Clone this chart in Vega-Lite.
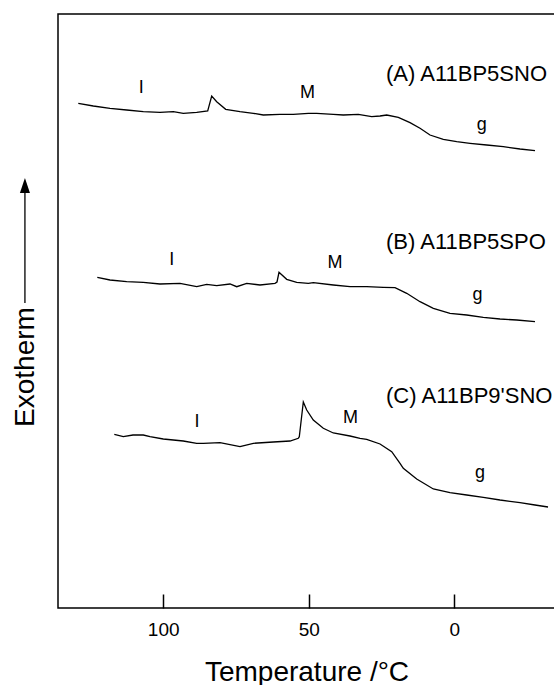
{
  "$schema": "https://vega.github.io/schema/vega-lite/v6.json",
  "width": 497,
  "height": 594,
  "autosize": {"type": "none"},
  "padding": {"left": 58, "top": 14, "right": 0, "bottom": 77},
  "background": "white",
  "config": {
    "view": {"stroke": "black", "strokeWidth": 1.5},
    "font": "Liberation Sans",
    "text": {"font": "Liberation Sans", "color": "black"}
  },
  "datasets": {
    "curves": [
      {"series": "A", "T": 129.17, "v": 504.7},
      {"series": "A", "T": 124.01, "v": 502.0},
      {"series": "A", "T": 118.28, "v": 499.7},
      {"series": "A", "T": 112.54, "v": 498.0},
      {"series": "A", "T": 106.84, "v": 496.3},
      {"series": "A", "T": 101.10, "v": 495.7},
      {"series": "A", "T": 96.53, "v": 496.3},
      {"series": "A", "T": 93.10, "v": 494.7},
      {"series": "A", "T": 88.49, "v": 495.7},
      {"series": "A", "T": 84.71, "v": 497.0},
      {"series": "A", "T": 83.34, "v": 512.0},
      {"series": "A", "T": 81.62, "v": 506.3},
      {"series": "A", "T": 78.53, "v": 498.7},
      {"series": "A", "T": 73.62, "v": 496.3},
      {"series": "A", "T": 69.05, "v": 494.7},
      {"series": "A", "T": 65.61, "v": 493.0},
      {"series": "A", "T": 59.88, "v": 493.7},
      {"series": "A", "T": 55.31, "v": 493.7},
      {"series": "A", "T": 50.15, "v": 494.7},
      {"series": "A", "T": 47.27, "v": 494.7},
      {"series": "A", "T": 41.57, "v": 493.7},
      {"series": "A", "T": 38.13, "v": 493.0},
      {"series": "A", "T": 32.98, "v": 493.7},
      {"series": "A", "T": 28.38, "v": 491.3},
      {"series": "A", "T": 25.52, "v": 492.0},
      {"series": "A", "T": 23.22, "v": 493.0},
      {"series": "A", "T": 19.24, "v": 490.7},
      {"series": "A", "T": 15.22, "v": 485.3},
      {"series": "A", "T": 11.78, "v": 479.7},
      {"series": "A", "T": 8.35, "v": 473.0},
      {"series": "A", "T": 3.78, "v": 468.7},
      {"series": "A", "T": -0.82, "v": 466.3},
      {"series": "A", "T": -5.39, "v": 464.7},
      {"series": "A", "T": -11.13, "v": 463.0},
      {"series": "A", "T": -16.83, "v": 461.3},
      {"series": "A", "T": -22.57, "v": 459.0},
      {"series": "A", "T": -27.72, "v": 457.3},
      {"series": "B", "T": 122.64, "v": 330.7},
      {"series": "B", "T": 118.28, "v": 328.0},
      {"series": "B", "T": 112.54, "v": 326.3},
      {"series": "B", "T": 106.84, "v": 325.7},
      {"series": "B", "T": 101.10, "v": 324.0},
      {"series": "B", "T": 94.23, "v": 324.7},
      {"series": "B", "T": 88.49, "v": 321.3},
      {"series": "B", "T": 85.06, "v": 323.7},
      {"series": "B", "T": 81.62, "v": 322.3},
      {"series": "B", "T": 77.05, "v": 324.0},
      {"series": "B", "T": 74.75, "v": 321.3},
      {"series": "B", "T": 71.32, "v": 324.7},
      {"series": "B", "T": 66.75, "v": 323.0},
      {"series": "B", "T": 61.59, "v": 324.7},
      {"series": "B", "T": 60.91, "v": 326.0},
      {"series": "B", "T": 60.22, "v": 335.7},
      {"series": "B", "T": 57.57, "v": 328.7},
      {"series": "B", "T": 54.14, "v": 325.7},
      {"series": "B", "T": 50.15, "v": 324.7},
      {"series": "B", "T": 48.44, "v": 325.3},
      {"series": "B", "T": 41.57, "v": 323.0},
      {"series": "B", "T": 35.83, "v": 321.3},
      {"series": "B", "T": 30.09, "v": 321.3},
      {"series": "B", "T": 24.39, "v": 320.7},
      {"series": "B", "T": 20.37, "v": 320.3},
      {"series": "B", "T": 16.35, "v": 314.7},
      {"series": "B", "T": 11.78, "v": 306.3},
      {"series": "B", "T": 7.21, "v": 299.7},
      {"series": "B", "T": 1.48, "v": 294.7},
      {"series": "B", "T": -4.26, "v": 293.0},
      {"series": "B", "T": -9.96, "v": 290.7},
      {"series": "B", "T": -15.70, "v": 289.0},
      {"series": "B", "T": -21.44, "v": 288.0},
      {"series": "B", "T": -27.72, "v": 286.3},
      {"series": "C", "T": 116.80, "v": 173.7},
      {"series": "C", "T": 113.71, "v": 171.3},
      {"series": "C", "T": 110.37, "v": 173.0},
      {"series": "C", "T": 106.84, "v": 173.0},
      {"series": "C", "T": 104.53, "v": 171.3},
      {"series": "C", "T": 99.97, "v": 169.0},
      {"series": "C", "T": 93.10, "v": 167.0},
      {"series": "C", "T": 88.49, "v": 164.7},
      {"series": "C", "T": 86.22, "v": 164.7},
      {"series": "C", "T": 80.49, "v": 165.3},
      {"series": "C", "T": 73.62, "v": 161.3},
      {"series": "C", "T": 69.05, "v": 164.7},
      {"series": "C", "T": 62.18, "v": 166.0},
      {"series": "C", "T": 56.44, "v": 167.0},
      {"series": "C", "T": 53.59, "v": 169.7},
      {"series": "C", "T": 53.25, "v": 171.3},
      {"series": "C", "T": 51.87, "v": 206.0},
      {"series": "C", "T": 50.70, "v": 198.0},
      {"series": "C", "T": 48.44, "v": 188.0},
      {"series": "C", "T": 45.00, "v": 179.7},
      {"series": "C", "T": 41.57, "v": 175.0},
      {"series": "C", "T": 35.83, "v": 172.0},
      {"series": "C", "T": 32.39, "v": 169.7},
      {"series": "C", "T": 30.09, "v": 168.7},
      {"series": "C", "T": 25.52, "v": 164.0},
      {"series": "C", "T": 21.50, "v": 156.3},
      {"series": "C", "T": 18.65, "v": 144.7},
      {"series": "C", "T": 17.52, "v": 139.7},
      {"series": "C", "T": 12.92, "v": 129.0},
      {"series": "C", "T": 7.21, "v": 119.0},
      {"series": "C", "T": 1.48, "v": 115.3},
      {"series": "C", "T": -4.26, "v": 113.0},
      {"series": "C", "T": -9.96, "v": 110.7},
      {"series": "C", "T": -15.70, "v": 108.0},
      {"series": "C", "T": -22.57, "v": 105.3},
      {"series": "C", "T": -27.72, "v": 103.0},
      {"series": "C", "T": -32.19, "v": 101.0}
    ],
    "names": [
      {"label": "(A) A11BP5SNO", "T": 23.46, "v": 527},
      {"label": "(B) A11BP5SPO", "T": 23.46, "v": 359},
      {"label": "(C) A11BP9'SNO", "T": 23.46, "v": 204.7}
    ],
    "phases": [
      {"label": "I", "T": 107.57, "v": 515},
      {"label": "M", "T": 50.43, "v": 509.7},
      {"label": "g", "T": -9.41, "v": 478.5},
      {"label": "I", "T": 97.08, "v": 343},
      {"label": "M", "T": 40.98, "v": 339.7},
      {"label": "g", "T": -7.97, "v": 308.5},
      {"label": "I", "T": 88.39, "v": 181},
      {"label": "M", "T": 35.66, "v": 185},
      {"label": "g", "T": -8.83, "v": 130}
    ],
    "arrow": [
      {"T": 147.5, "v": 305, "v2": 418}
    ],
    "arrowhead": [
      {"T": 147.5, "v": 422.5}
    ]
  },
  "layer": [
    {
      "data": {"name": "curves"},
      "mark": {"type": "line", "color": "black", "strokeWidth": 1.3},
      "encoding": {
        "x": {
          "field": "T", "type": "quantitative",
          "scale": {"domain": [-34.59, 136.14], "reverse": true, "nice": false, "zero": false},
          "axis": {
            "title": "Temperature /°C",
            "values": [100, 50, 0],
            "grid": false,
            "domain": false,
            "tickSize": -14,
            "tickColor": "black",
            "tickWidth": 1.5,
            "labelFontSize": 19,
            "labelColor": "black",
            "labelFont": "Liberation Sans",
            "labelBaseline": "alphabetic",
            "labelPadding": 41,
            "titleFont": "Liberation Sans",
            "titleFontSize": 28,
            "titleFontWeight": "normal",
            "titleColor": "black",
            "titleBaseline": "alphabetic",
            "titleY": 72
          }
        },
        "y": {
          "field": "v", "type": "quantitative",
          "scale": {"domain": [0, 594], "nice": false, "zero": false},
          "axis": {
            "title": "Exotherm",
            "labels": false,
            "ticks": false,
            "domain": false,
            "grid": false,
            "titleFont": "Liberation Sans",
            "titleFontSize": 28,
            "titleFontWeight": "normal",
            "titleColor": "black",
            "titleAngle": 270,
            "titleAlign": "center",
            "titleBaseline": "alphabetic",
            "titleX": -24.7,
            "titleY": 352.5
          }
        },
        "detail": {"field": "series"}
      }
    },
    {
      "data": {"name": "names"},
      "mark": {"type": "text", "align": "left", "baseline": "alphabetic", "fontSize": 22},
      "encoding": {
        "x": {"field": "T", "type": "quantitative"},
        "y": {"field": "v", "type": "quantitative"},
        "text": {"field": "label"}
      }
    },
    {
      "data": {"name": "phases"},
      "mark": {"type": "text", "align": "center", "baseline": "alphabetic", "fontSize": 18},
      "encoding": {
        "x": {"field": "T", "type": "quantitative"},
        "y": {"field": "v", "type": "quantitative"},
        "text": {"field": "label"}
      }
    },
    {
      "data": {"name": "arrow"},
      "mark": {"type": "rule", "color": "black", "strokeWidth": 1.3},
      "encoding": {
        "x": {"field": "T", "type": "quantitative"},
        "y": {"field": "v", "type": "quantitative"},
        "y2": {"field": "v2"}
      }
    },
    {
      "data": {"name": "arrowhead"},
      "mark": {"type": "point", "shape": "M0,-1L0.67,1L-0.67,1Z", "size": 225, "filled": true, "color": "black", "opacity": 1, "strokeWidth": 0},
      "encoding": {
        "x": {"field": "T", "type": "quantitative"},
        "y": {"field": "v", "type": "quantitative"}
      }
    }
  ]
}
